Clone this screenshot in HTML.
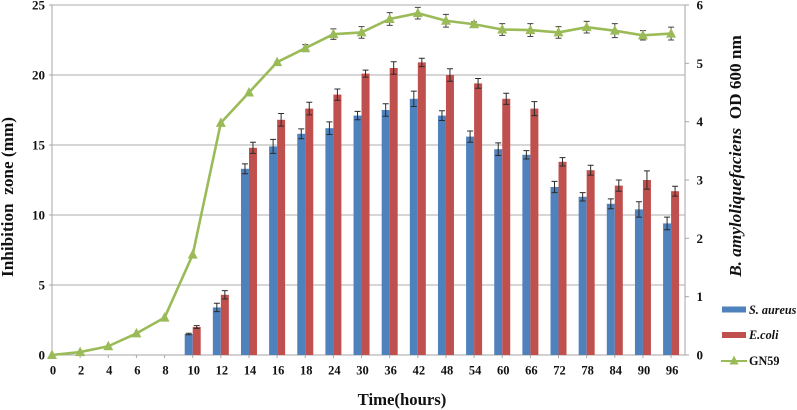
<!DOCTYPE html>
<html>
<head>
<meta charset="utf-8">
<style>
html,body{margin:0;padding:0;background:#fff;width:797px;height:410px;overflow:hidden}
svg{display:block;filter:blur(0.35px)}
text{font-family:"Liberation Serif",serif;font-weight:bold;fill:#111}
.tick{font-size:13px}
.xtick{font-size:12.5px}
.title{font-size:17.2px}
.xtitle{font-size:16.7px}
.leg{font-size:12.2px}
</style>
</head>
<body>
<svg id="chart" width="797" height="410" viewBox="0 0 797 410" xmlns="http://www.w3.org/2000/svg">
<text class="title" transform="translate(13,197) rotate(-90)" text-anchor="middle" xml:space="preserve">Inhibition  zone (mm)</text>
<text class="title" transform="translate(741,156) rotate(-90)" text-anchor="middle" xml:space="preserve"><tspan font-style="italic">B. amyloliquefaciens</tspan>  OD 600 nm</text>
<text class="xtitle" x="402" y="405" text-anchor="middle">Time(hours)</text>
<g>
<rect x="722" y="306.500" width="24" height="6" fill="#4f81bd"/>
<text class="leg" x="749" y="314" font-style="italic">S. aureus</text>
<rect x="722" y="332" width="24" height="6" fill="#c0504d"/>
<text class="leg" x="749" y="339" font-style="italic">E.coli</text>
<line x1="721" y1="361" x2="747" y2="361" stroke="#9bbb59" stroke-width="2"/>
<path d="M734 355.500L738.500 364.500L729.500 364.500Z" fill="#9bbb59"/>
<text class="leg" x="749" y="365">GN59</text>
</g>
</svg>
<script>
const categories = ["0","2","4","6","8","10","12","14","16","18","24","30","36","42","48","54","60","66","72","78","84","90","96"];
const aureusValues = [null,null,null,null,null,1.5,3.4,13.3,14.9,15.8,16.2,17.1,17.5,18.3,17.1,15.6,14.7,14.3,12.0,11.3,10.8,10.4,9.4];
const aureusErrors = [0,0,0,0,0,0.05,0.3,0.35,0.5,0.35,0.45,0.3,0.45,0.55,0.35,0.4,0.45,0.3,0.4,0.3,0.35,0.55,0.45];
const coliValues = [null,null,null,null,null,2.0,4.3,14.8,16.8,17.6,18.6,20.1,20.5,20.9,20.0,19.4,18.3,17.6,13.8,13.2,12.1,12.5,11.7];
const coliErrors = [0,0,0,0,0,0.1,0.3,0.4,0.45,0.45,0.4,0.25,0.45,0.3,0.45,0.35,0.4,0.5,0.3,0.35,0.4,0.65,0.35];
const gn59Values = [0,0.05,0.15,0.37,0.64,1.72,3.98,4.5,5.02,5.26,5.5,5.53,5.76,5.86,5.73,5.67,5.58,5.57,5.53,5.62,5.56,5.48,5.51];
const gn59Errors = [0,0,0,0,0,0,0,0,0,0.06,0.09,0.1,0.11,0.1,0.11,0.04,0.1,0.11,0.1,0.1,0.12,0.08,0.11];
const leftTicks = [0,5,10,15,20,25];
const rightTicks = [0,1,2,3,4,5,6];

const NS = "http://www.w3.org/2000/svg";
const svg = document.getElementById("chart");
const plotLeft = 52, plotRight = 685, plotTop = 5, plotBottom = 355, step = 28.14, barW = 8;
const xPos = i => plotLeft + i * step;
const yLeft = v => plotBottom - (v / 25) * (plotBottom - plotTop);
const yRight = v => plotBottom - (v / 6) * (plotBottom - plotTop);

function mk(tag, attrs, parent) {
  const el = document.createElementNS(NS, tag);
  for (const k in attrs) el.setAttribute(k, attrs[k]);
  (parent || svg).appendChild(el);
  return el;
}
function errBar(x, y, e, color, parent) {
  if (!e) return;
  const top = y - e.t, bot = y + e.b;
  const d = "M" + x + " " + top + "V" + bot + "M" + (x - 3) + " " + top + "H" + (x + 3) + "M" + (x - 3) + " " + bot + "H" + (x + 3);
  const p = mk("path", {d: d, stroke: color, "stroke-width": 1, fill: "none"}, parent);
  
  
}

const gridG = mk("g", {});


leftTicks.forEach(t => {
  if (t === 0) return;
  const l = mk("line", {x1: plotLeft, x2: plotRight, y1: yLeft(t), y2: yLeft(t), stroke: "#bdbdbd", "stroke-width": 1.2}, gridG);
  
  
  const tk = mk("line", {x1: plotLeft - 3, x2: plotLeft, y1: yLeft(t), y2: yLeft(t), stroke: "#a6a6a6"}, gridG);
  
  
});

const axisG = mk("g", {});


[[plotLeft, plotTop, plotLeft, plotBottom, 'left-axis-line'],
 [plotRight, plotTop, plotRight, plotBottom, 'right-axis-line'],
 [plotLeft, plotBottom, plotRight, plotBottom, 'x-axis-line']].forEach(a => {
  const l = mk("line", {x1: a[0], y1: a[1], x2: a[2], y2: a[3], stroke: "#a6a6a6", "stroke-width": 1}, axisG);
  
  
});

leftTicks.forEach(t => {
  const el = mk("text", {x: 45, y: yLeft(t) + 4.5, "text-anchor": "end", class: "tick"});
  el.textContent = t;
  
  
});
rightTicks.forEach(t => {
  const y = yRight(t);
  const tk = mk("line", {x1: plotRight, x2: plotRight + 4, y1: y, y2: y, stroke: "#a6a6a6"});
  
  
  const el = mk("text", {x: 696.5, y: y + 4.5, class: "tick"});
  el.textContent = t;
  
  
});

categories.forEach((c, i) => {
  const x = xPos(i);
  const tk = mk("line", {x1: x, x2: x, y1: plotBottom, y2: plotBottom + 3, stroke: "#a6a6a6"});
  
  
  const el = mk("text", {x: x + 1, y: 374.5, "text-anchor": "middle", class: "xtick"});
  el.textContent = c;
  
  
});

categories.forEach((c, i) => {
  if (aureusValues[i] !== null) {
    const y = yLeft(aureusValues[i]);
    const b = mk("rect", {x: xPos(i) - barW, y: y, width: barW, height: plotBottom - y, fill: "#4f81bd"});
    
    
  }
  if (coliValues[i] !== null) {
    const y = yLeft(coliValues[i]);
    const b = mk("rect", {x: xPos(i), y: y, width: barW, height: plotBottom - y, fill: "#c0504d"});
    
    
  }
});
categories.forEach((c, i) => {
  if (aureusValues[i] !== null) {
    const d = aureusErrors[i] * 14;
    errBar(xPos(i) - barW / 2, yLeft(aureusValues[i]), {t: d, b: d}, "#2b2b2b");
  }
  if (coliValues[i] !== null) {
    const d = coliErrors[i] * 14;
    errBar(xPos(i) + barW / 2, yLeft(coliValues[i]), {t: d, b: d}, "#2b2b2b");
  }
});

const linePts = gn59Values.map((v, i) => xPos(i) + "," + yRight(v)).join(" ");
const line = mk("polyline", {points: linePts, fill: "none", stroke: "#9bbb59", "stroke-width": 2.6, "stroke-linejoin": "round"});


gn59Values.forEach((v, i) => {
  const x = xPos(i), y = yRight(v);
  const d = gn59Errors[i] * 58.33;
  errBar(x, y, d ? {t: d, b: d} : null, "#444");
  const m = mk("path", {d: "M" + x + " " + (y - 5.5) + "L" + (x + 5) + " " + (y + 4) + "L" + (x - 5) + " " + (y + 4) + "Z", fill: "#9bbb59"});
  
  
});
</script>
</body>
</html>
